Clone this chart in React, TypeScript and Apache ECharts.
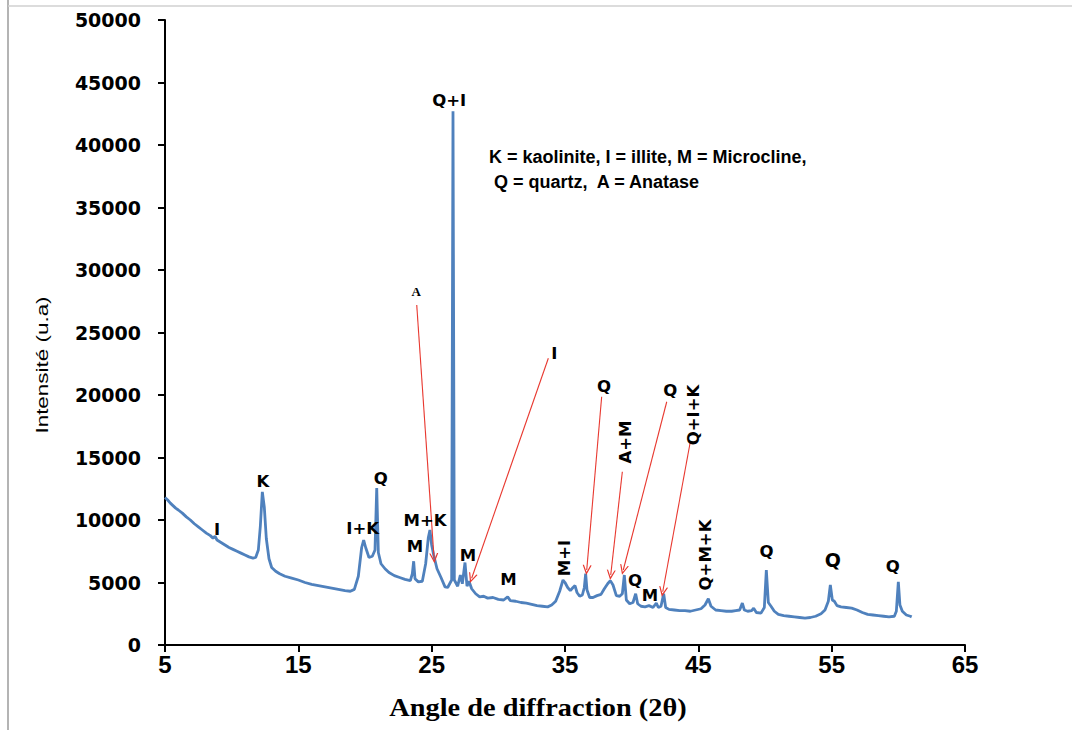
import React, { useEffect, useRef } from "react";
import * as echarts from "echarts";

// 2θ (degrees) and intensity (u.a)
const angles: number[] = [
  5.0, 5.2, 5.4, 5.6, 5.8, 6.0, 6.3, 6.6, 6.9, 7.2, 7.5, 7.8, 8.1, 8.4, 8.6, 8.75, 8.9, 9.2, 9.5, 9.8,
  10.1, 10.4, 10.7, 11.0, 11.3, 11.6, 11.8, 12.0, 12.15, 12.3, 12.45, 12.6, 12.8, 13.0, 13.3, 13.6, 14.0, 14.5, 15.0, 15.5,
  16.0, 16.5, 17.0, 17.5, 18.0, 18.5, 18.9, 19.2, 19.5, 19.75, 19.9, 20.05, 20.3, 20.55, 20.75, 20.88, 21.0, 21.2, 21.5, 21.8,
  22.2, 22.6, 23.0, 23.4, 23.55, 23.65, 23.75, 24.0, 24.3, 24.55, 24.75, 24.87, 25.0, 25.15, 25.4, 25.7, 26.0, 26.2, 26.5, 26.6,
  26.7, 26.95, 27.15, 27.3, 27.5, 27.65, 27.8, 28.0, 28.3, 28.6, 28.9, 29.2, 29.6, 30.0, 30.4, 30.7, 30.9, 31.3, 31.7, 32.1,
  32.5, 32.9, 33.3, 33.7, 34.0, 34.3, 34.6, 34.85, 35.0, 35.2, 35.4, 35.6, 35.75, 35.9, 36.1, 36.3, 36.45, 36.55, 36.65, 36.85,
  37.1, 37.4, 37.7, 37.95, 38.2, 38.4, 38.6, 38.85, 39.1, 39.3, 39.45, 39.6, 39.85, 40.1, 40.3, 40.45, 40.7, 41.0, 41.3, 41.6,
  41.85, 42.0, 42.2, 42.4, 42.55, 42.8, 43.2, 43.6, 44.0, 44.4, 44.8, 45.2, 45.5, 45.75, 45.95, 46.3, 46.7, 47.1, 47.5, 47.8,
  48.1, 48.3, 48.45, 48.7, 49.0, 49.15, 49.35, 49.7, 49.95, 50.1, 50.25, 50.45, 50.7, 51.0, 51.4, 51.8, 52.2, 52.6, 53.0, 53.4,
  53.8, 54.2, 54.5, 54.75, 54.9, 55.05, 55.2, 55.4, 55.7, 56.1, 56.5, 56.9, 57.3, 57.7, 58.1, 58.5, 58.9, 59.3, 59.7, 59.85,
  60.0, 60.12, 60.3, 60.6, 60.9, 61.0,
];
const intensities: number[] = [
  11800, 11600, 11350, 11150, 10950, 10800, 10550, 10250, 10000, 9700, 9450, 9200, 8950, 8750, 8550, 8700, 8400, 8200, 8000, 7800,
  7650, 7500, 7350, 7200, 7050, 6950, 7000, 7600, 9500, 12250, 11000, 8500, 6900, 6200, 5900, 5700, 5500, 5350, 5200, 5000,
  4850, 4750, 4650, 4550, 4450, 4350, 4300, 4450, 5500, 7800, 8400, 7800, 7000, 7100, 7600, 12550, 7400, 6500, 6100, 5800,
  5550, 5400, 5250, 5150, 5700, 6700, 5300, 5050, 5100, 6500, 8600, 9200, 8000, 7200, 6100, 5400, 4650, 4600, 5200, 42700,
  5200, 4700, 5600, 4900, 6600, 4700, 5100, 4500, 4100, 3850, 3900, 3750, 3800, 3650, 3600, 3850, 3550, 3500, 3400, 3350,
  3250, 3150, 3100, 3050, 3200, 3500, 4300, 5200, 5000, 4600, 4350, 4600, 4750, 4200, 3900, 4000, 4600, 5700, 4400, 3800,
  3800, 3950, 4050, 4500, 4900, 5150, 4800, 3950, 3900, 4100, 5600, 3600, 3300, 3400, 4100, 3300, 3100, 3050, 3150, 3000,
  3350, 3000, 3100, 4100, 3000, 2850, 2800, 2750, 2750, 2700, 2800, 2900, 3200, 3700, 3100, 2800, 2750, 2700, 2700, 2750,
  2800, 3350, 2800, 2700, 2750, 2950, 2600, 2550, 3000, 6000, 3400, 3100, 2700, 2450, 2350, 2300, 2250, 2200, 2150, 2200,
  2300, 2500, 2800, 3500, 4800, 3600, 3500, 3150, 3050, 3000, 2950, 2800, 2600, 2450, 2400, 2350, 2300, 2250, 2300, 2700,
  5050, 3200, 2700, 2400, 2300, 2250,
];

const xTicks = { min: 5, max: 65, interval: 10 };
const yTicks = { min: 0, max: 50000, interval: 5000 };

// phase labels: text, 2θ, intensity, rotated?
const peakLabels: [string, number, number, boolean][] = [
  ["I", 8.9, 9260, false],
  ["K", 12.35, 13060, false],
  ["I+K", 19.83, 9340, false],
  ["Q", 21.18, 13340, false],
  ["M+K", 24.5, 10000, false],
  ["M", 23.75, 7920, false],
  ["M", 27.73, 7200, false],
  ["Q+I", 26.32, 43540, false],
  ["I", 34.2, 23340, false],
  ["M", 30.75, 5260, false],
  ["M+I", 34.95, 6960, true],
  ["Q", 37.93, 20660, false],
  ["A+M", 39.55, 16240, true],
  ["Q", 42.9, 20400, false],
  ["Q+I+K", 44.62, 18400, true],
  ["Q", 40.25, 5200, false],
  ["M", 41.38, 4000, false],
  ["Q+M+K", 45.5, 7200, true],
  ["Q", 50.11, 7520, false],
  ["Q", 55.08, 6800, false],
  ["Q", 59.58, 6260, false],
];
const anataseLabel: [string, number, number] = ["A", 23.83, 28260];

// arrows: from [2θ, I] to [2θ, I]
const arrows: [number, number, number, number][] = [
  [23.88, 27200, 25.18, 6940],
  [33.75, 22940, 28.0, 5340],
  [37.75, 19860, 36.63, 6000],
  [39.3, 13860, 38.43, 5600],
  [42.63, 19460, 39.37, 6000],
  [44.38, 16160, 42.33, 4260],
];

const legendLines = ["K = kaolinite, I = illite, M = Microcline,", " Q = quartz,  A = Anatase"];
const xTitle = "Angle de diffraction (2θ)";
const yTitle = "Intensité (u.a)";

const ARROW = "path://M0,10 L5,0 L10,10 L8.6,10 L5,3 L1.4,10 Z";

export default function App() {
  const ref = useRef<HTMLDivElement>(null);
  useEffect(() => {
    if (!ref.current) return;
    const chart = echarts.init(ref.current, undefined, { renderer: "svg" });
    const data = angles.map((a, i) => [a, intensities[i]]);
    const lblFont = "DejaVu Sans";
    const mpData: any[] = peakLabels.map(([t, x, y, rot]) => ({
      name: t,
      coord: [x, y],
      label: {
        rotate: rot ? 90 : 0,
        fontSize: t === "Q" && x > 54 && x < 56 ? 19 : 16.5,
      },
    }));
    mpData.push({
      name: anataseLabel[0],
      coord: [anataseLabel[1], anataseLabel[2]],
      label: { fontFamily: "Liberation Serif", fontSize: 13, fontWeight: "bold" },
    });
    const option: any = {
      animation: false,
      backgroundColor: "#ffffff",
      grid: { left: 165, right: 107, top: 20, bottom: 85, containLabel: false },
      xAxis: {
        type: "value",
        min: xTicks.min,
        max: xTicks.max,
        interval: xTicks.interval,
        axisLine: { show: true, lineStyle: { color: "#000", width: 2 } },
        axisTick: { show: true, inside: false, length: 7, lineStyle: { color: "#000", width: 2 } },
        splitLine: { show: false },
        axisLabel: {
          margin: 7,
          color: "#000",
          fontFamily: "Liberation Sans",
          fontWeight: "bold",
          fontSize: 24,
          formatter: (v: number) => String(v),
        },
      },
      yAxis: {
        type: "value",
        min: yTicks.min,
        max: yTicks.max,
        interval: yTicks.interval,
        axisLine: { show: true, lineStyle: { color: "#000", width: 2 } },
        axisTick: { show: true, inside: false, length: 7, lineStyle: { color: "#000", width: 2 } },
        splitLine: { show: false },
        axisLabel: {
          margin: 24,
          color: "#000",
          fontFamily: "DejaVu Sans",
          fontWeight: "bold",
          fontSize: 19,
          formatter: (v: number) => String(v),
        },
      },
      series: [
        {
          type: "line",
          data,
          showSymbol: false,
          symbol: "none",
          lineStyle: { color: "#4f81bd", width: 2.8 },
          itemStyle: { color: "#4f81bd" },
          emphasis: { disabled: true },
          z: 2,
          markPoint: {
            symbol: "circle",
            symbolSize: 1,
            itemStyle: { color: "rgba(0,0,0,0)" },
            silent: true,
            label: {
              show: true,
              position: "inside",
              formatter: (p: any) => p.name,
              color: "#000",
              fontFamily: lblFont,
              fontWeight: "bold",
              fontSize: 16.5,
            },
            data: mpData,
          },
          markLine: {
            silent: true,
            symbol: ["none", ARROW],
            symbolSize: [9, 10],
            label: { show: false },
            lineStyle: { color: "#e8382f", width: 1.1, type: "solid" },
            emphasis: { disabled: true },
            data: arrows.map(([x1, y1, x2, y2]) => [
              { coord: [x1, y1], symbol: "none" },
              { coord: [x2, y2], symbol: ARROW },
            ]),
          },
        },
      ],
      graphic: [
        { type: "line", shape: { x1: 8, y1: 0, x2: 8, y2: 730 }, style: { stroke: "#b4b4b4", lineWidth: 2 }, silent: true },
        { type: "line", shape: { x1: 8, y1: 6, x2: 1072, y2: 6 }, style: { stroke: "#d0d0d0", lineWidth: 1.5 }, silent: true },
        {
          type: "text",
          left: 489,
          top: 144,
          style: {
            text: legendLines.join("\n"),
            fill: "#000",
            font: "bold 18px 'Liberation Sans', Arial, sans-serif",
            lineHeight: 25,
          },
        },
        {
          type: "text",
          x: 538,
          y: 707,
          scaleX: 1.09,
          style: {
            text: xTitle,
            fill: "#000",
            font: "bold 26px 'Liberation Serif', 'Times New Roman', serif",
            textAlign: "center",
            textVerticalAlign: "middle",
          },
        },
        {
          type: "text",
          x: 42,
          y: 365,
          rotation: Math.PI / 2,
          scaleX: 1.36,
          style: {
            text: yTitle,
            fill: "#000",
            font: "16.5px 'Liberation Sans', Arial, sans-serif",
            textAlign: "center",
            textVerticalAlign: "middle",
          },
        },
      ],
    };
    chart.setOption(option);
    return () => chart.dispose();
  }, []);
  return (
    <div
      ref={ref}
      style={{ position: "absolute", left: 0, top: 0, width: 1072, height: 730, background: "#fff" }}
    />
  );
}
